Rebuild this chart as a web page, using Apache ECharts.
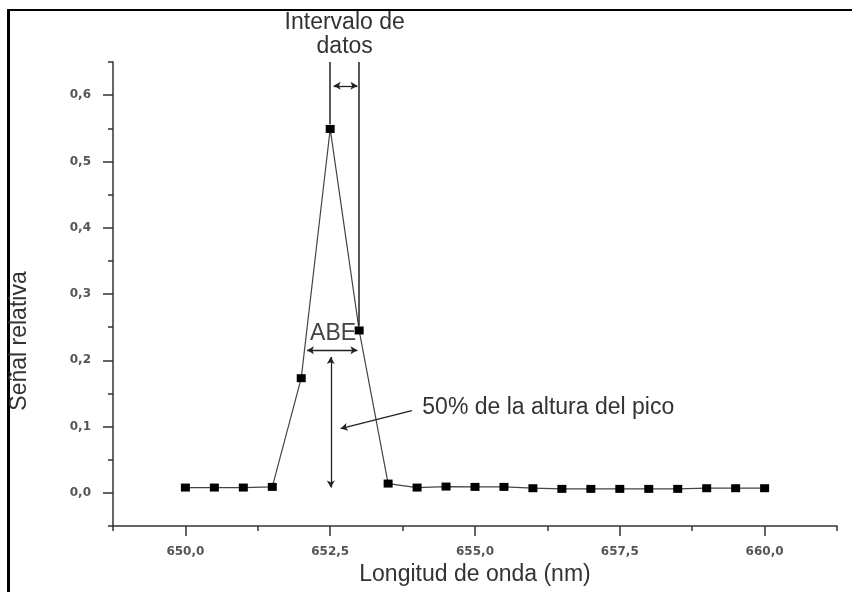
<!DOCTYPE html>
<html>
<head>
<meta charset="utf-8">
<script src="https://cdn.jsdelivr.net/npm/echarts@6/dist/echarts.min.js"></script>
<style>
  html, body { margin: 0; padding: 0; background: #fff; }
  #chart { width: 852px; height: 592px; }
</style>
</head>
<body>
<div id="chart"></div>
<script>
// longitud de onda (nm) y señal relativa
const wavelength = [650.0, 650.5, 651.0, 651.5, 652.0, 652.5, 653.0, 653.5, 654.0, 654.5,
  655.0, 655.5, 656.0, 656.5, 657.0, 657.5, 658.0, 658.5, 659.0, 659.5, 660.0];
const signal = [0.008, 0.008, 0.008, 0.009, 0.173, 0.549, 0.245, 0.014, 0.008, 0.0095,
  0.009, 0.009, 0.007, 0.006, 0.006, 0.006, 0.006, 0.006, 0.007, 0.007, 0.007];

// ticks
const xMajor = [650.0, 652.5, 655.0, 657.5, 660.0];
const xMinor = [648.75, 651.25, 653.75, 656.25, 658.75, 661.25];
const yMajor = [0.0, 0.1, 0.2, 0.3, 0.4, 0.5, 0.6];
const yMinor = [-0.05, 0.05, 0.15, 0.25, 0.35, 0.45, 0.55, 0.65];

// anotaciones (en unidades de datos)
const intervalLines = [[652.5, 0.65, 0.556], [653.0, 0.65, 0.252]];
const doubleArrows = [
  [[652.56, 0.614], [652.97, 0.614]],   // intervalo de datos
  [[652.1, 0.215], [652.97, 0.215]],    // ABE
  [[652.51, 0.205], [652.51, 0.008]]    // 50% altura
];
const pointerArrow = [[653.91, 0.124], [652.68, 0.097]];
const labels = {
  interval: { text: 'Intervalo de\ndatos', at: [652.75, 0.65] },
  abe: { text: 'ABE', at: [652.55, 0.24] },
  half: { text: '50% de la altura del pico', at: [654.09, 0.129] }
};
const yName = 'Señal relativa';

const fmt = v => v.toFixed(1).replace('.', ',');
const axisColor = '#333';
const tickFont = { fontFamily: 'DejaVu Sans', fontSize: 12, fontWeight: 'bold', color: '#555' };
const nameFont = { fontFamily: 'Liberation Sans', fontSize: 23, color: '#333' };

const chart = echarts.init(document.getElementById('chart'), null, { renderer: 'canvas' });

chart.setOption({
  animation: false,
  backgroundColor: '#fff',
  grid: { left: 113, top: 62, right: 15, bottom: 66 },
  xAxis: [
    {
      type: 'value', min: 648.75, max: 661.25, position: 'bottom',
      name: 'Longitud de onda (nm)', nameLocation: 'middle', nameGap: 31,
      nameTextStyle: nameFont,
      axisLine: { show: true, onZero: false, lineStyle: { color: axisColor, width: 1.5 } },
      axisTick: { show: true, customValues: xMajor, length: 10, lineStyle: { color: axisColor, width: 1.5 } },
      axisLabel: Object.assign({ customValues: xMajor, margin: 20, formatter: fmt }, tickFont),
      splitLine: { show: false }
    },
    {
      type: 'value', min: 648.75, max: 661.25, position: 'bottom',
      axisLine: { show: false, onZero: false },
      axisTick: { show: true, customValues: xMinor, length: 5, lineStyle: { color: axisColor, width: 1.5 } },
      axisLabel: { show: false },
      splitLine: { show: false }
    }
  ],
  yAxis: [
    {
      type: 'value', min: -0.05, max: 0.65, position: 'left',
      axisLine: { show: true, onZero: false, lineStyle: { color: axisColor, width: 1.5 } },
      axisTick: { show: true, customValues: yMajor, length: 10, lineStyle: { color: axisColor, width: 1.5 } },
      axisLabel: Object.assign({ customValues: yMajor, margin: 22, formatter: fmt }, tickFont),
      splitLine: { show: false }
    },
    {
      type: 'value', min: -0.05, max: 0.65, position: 'left',
      axisLine: { show: false, onZero: false },
      axisTick: { show: true, customValues: yMinor, length: 5, lineStyle: { color: axisColor, width: 1.5 } },
      axisLabel: { show: false },
      splitLine: { show: false }
    }
  ],
  series: [
    {
      type: 'line',
      data: wavelength.map((x, i) => [x, signal[i]]),
      symbol: 'rect',
      symbolSize: [9, 8],
      itemStyle: { color: '#000' },
      lineStyle: { color: '#444', width: 1.2 },
      z: 3,
      markLine: {
        silent: true,
        symbol: 'none',
        label: { show: false },
        lineStyle: { color: '#222', width: 1.5, type: 'solid' },
        data: intervalLines.map(l => [{ coord: [l[0], l[1]] }, { coord: [l[0], l[2]] }])
      }
    },
    {
      type: 'line',
      data: [],
      markLine: {
        silent: true,
        symbol: ['arrow', 'arrow'],
        symbolSize: [6, 7],
        label: { show: false },
        lineStyle: { color: '#222', width: 1.3, type: 'solid' },
        data: doubleArrows.map(a => [{ coord: a[0] }, { coord: a[1] }])
      }
    },
    {
      type: 'line',
      data: [],
      markLine: {
        silent: true,
        symbol: ['none', 'arrow'],
        symbolSize: [6, 7],
        label: { show: false },
        lineStyle: { color: '#222', width: 1.3, type: 'solid' },
        data: [[{ coord: pointerArrow[0] }, { coord: pointerArrow[1] }]]
      }
    }
  ]
});

// textos de anotacion y marco
const px = p => chart.convertToPixel({ seriesIndex: 0 }, p);
const pInt = px(labels.interval.at);
const pAbe = px(labels.abe.at);
const pHalf = px(labels.half.at);

chart.setOption({
  graphic: [
    { type: 'line', shape: { x1: 8, y1: 10, x2: 852, y2: 10 }, style: { stroke: '#000', lineWidth: 2 }, silent: true },
    { type: 'line', shape: { x1: 8.5, y1: 9, x2: 8.5, y2: 592 }, style: { stroke: '#000', lineWidth: 3 }, silent: true },
    {
      // el titulo del eje Y no esta centrado en el eje en el original
      type: 'text', x: 20, y: 341, rotation: Math.PI / 2, silent: true,
      style: { text: yName, font: '23px "Liberation Sans"', fill: '#333',
        align: 'center', verticalAlign: 'middle' }
    },
    {
      type: 'text', x: pInt[0], y: pInt[1] - 3, silent: true,
      style: { text: labels.interval.text, font: '23px "Liberation Sans"', fill: '#333',
        align: 'center', verticalAlign: 'bottom', lineHeight: 24 }
    },
    {
      type: 'text', x: pAbe[0], y: pAbe[1], silent: true,
      style: { text: labels.abe.text, font: '23px "Liberation Sans"', fill: '#444',
        align: 'center', verticalAlign: 'middle' }
    },
    {
      type: 'text', x: pHalf[0], y: pHalf[1], silent: true,
      style: { text: labels.half.text, font: '23px "Liberation Sans"', fill: '#333',
        align: 'left', verticalAlign: 'middle' }
    }
  ]
});
</script>
</body>
</html>
